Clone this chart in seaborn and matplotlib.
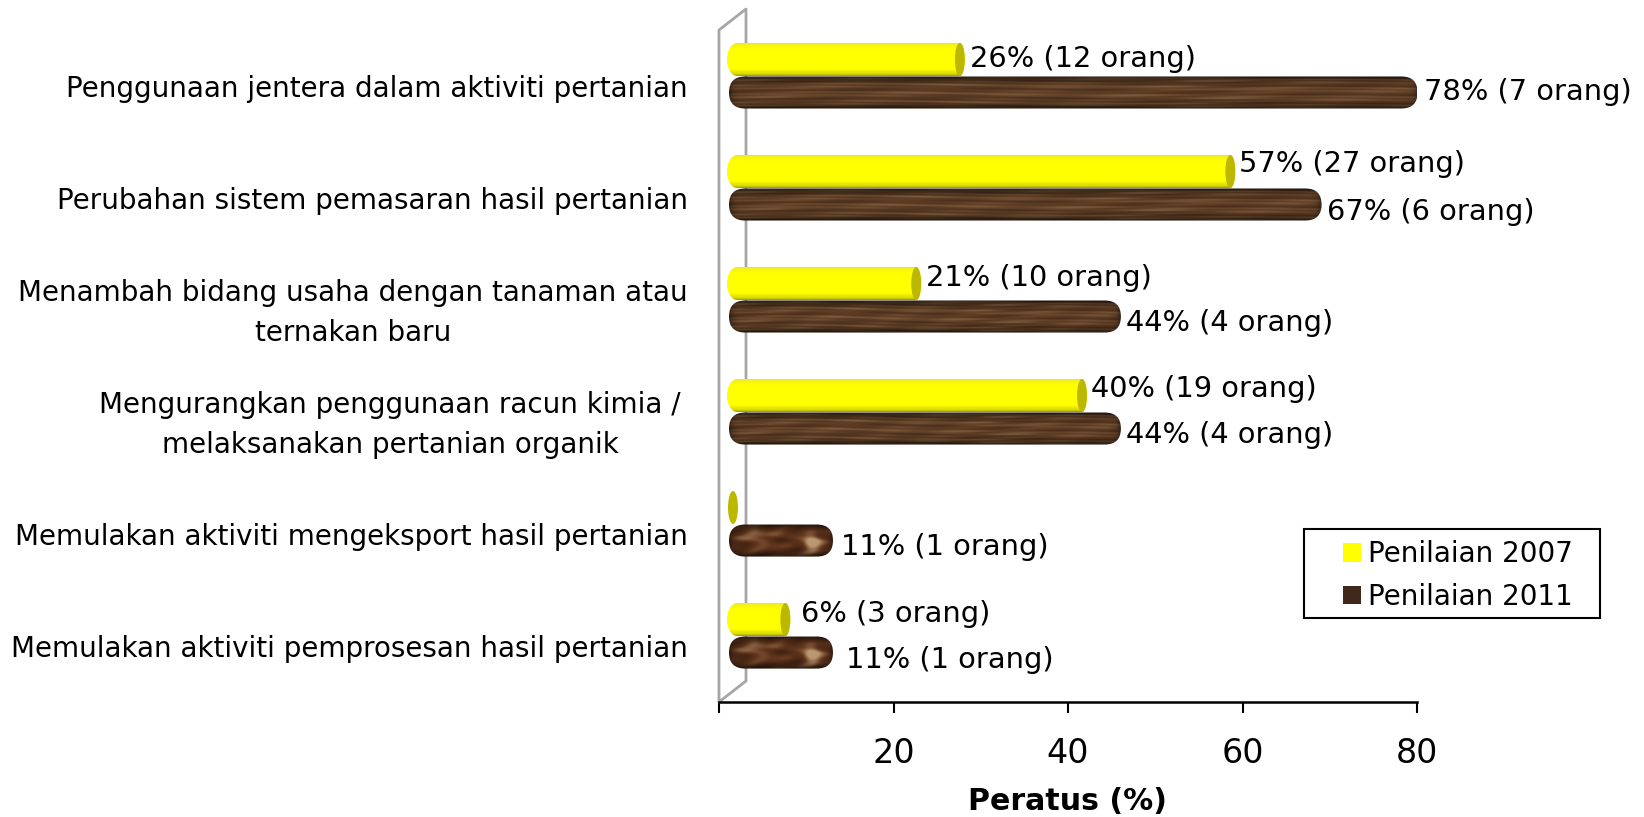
import numpy as np
import pandas as pd
import matplotlib
matplotlib.use('Agg')
import matplotlib.pyplot as plt
import matplotlib.patches as mpatches
from matplotlib.path import Path
from matplotlib.transforms import IdentityTransform
import seaborn as sns

# ── Data ─────────────────────────────────────────────────────
categories = [
    'Penggunaan jentera dalam aktiviti pertanian',
    'Perubahan sistem pemasaran hasil pertanian',
    'Menambah bidang usaha dengan tanaman atau\nternakan baru',
    'Mengurangkan penggunaan racun kimia /\nmelaksanakan pertanian organik',
    'Memulakan aktiviti mengeksport hasil pertanian',
    'Memulakan aktiviti pemprosesan hasil pertanian',
]
pct_2007 = [26, 57, 21, 40, 0, 6]
pct_2011 = [78, 67, 44, 44, 11, 11]
people_2007 = [12, 27, 10, 19, 0, 3]
people_2011 = [7, 6, 4, 4, 1, 1]
series_names = ['Penilaian 2007', 'Penilaian 2011']
x_ticks = [0, 20, 40, 60, 80]
x_tick_labels = ['', '20', '40', '60', '80']

# hand placed label nudges (px) : dx from bar end, dy from bar centre
nudge_2007 = [(5, 0), (4, -7), (5, -5), (4, -6), None, (11, -6)]
nudge_2011 = [(6, 0), (5, 7), (5, 6), (5, 6), (8, 6), (13, 7)]
label_shift = [0, 0, 0, 7, 0, 0]

W, H = 1644, 817
FONT = 'DejaVu Sans'
CAT_SIZE = 20
VALUE_SIZE = 20.8


# ── Helpers ──────────────────────────────────────────────────
def px(x, y):
    return (x, H - y)


def wood(w, h, short=False):
    """Brown wood-like texture as an RGB array, dark towards the edges."""
    u, v = np.meshgrid(np.linspace(0, 1, w), np.linspace(0, 1, h))
    if short:
        t = (0.30 * np.sin(u * 11 + 3 * np.sin(v * 7))
             + 0.22 * np.sin(u * 23 + v * 9 + 1.3)
             + 0.18 * np.sin(v * 17 + u * 5 + 0.4))
        t = 0.40 + 0.36 * t
        blob = (np.exp(-((u - 0.80) ** 2 / 0.006 + (v - 0.55) ** 2 / 0.08))
                + 0.5 * np.exp(-((u - 0.25) ** 2 / 0.012 + (v - 0.3) ** 2 / 0.05)))
        t = t + 0.8 * blob
        dark = np.array([0.20, 0.10, 0.05])
        mid = np.array([0.38, 0.21, 0.11])
        light = np.array([0.74, 0.60, 0.44])
    else:
        t = (0.30 * np.sin(v * 23 + 2 * np.sin(u * 5))
             + 0.25 * np.sin(v * 47 + 3 * np.sin(u * 9) + 1.3)
             + 0.18 * np.sin(v * 71 - u * 13 + 0.4)
             + 0.14 * np.sin(u * 37 + v * 9))
        t = 0.46 + 0.42 * t
        dark = np.array([0.23, 0.14, 0.08])
        mid = np.array([0.38, 0.25, 0.15])
        light = np.array([0.62, 0.49, 0.35])
    t = np.clip(t, 0, 1)[..., None]
    img = np.where(t < 0.5, dark + (mid - dark) * t * 2, mid + (light - mid) * (t - 0.5) * 2)
    # round look : darker along the top, bottom and both ends
    shade = 1 - 0.6 * np.abs(2 * v - 1) ** 3.5
    end_px = np.minimum(u, 1 - u) * w
    shade = shade * (1 - 0.45 * np.exp(-end_px / 3.5))
    return np.clip(img * shade[..., None], 0, 1)


def cylinder_shade(h):
    """Yellow body gradient, top to bottom."""
    v = np.linspace(0, 1, h)
    stops_v = [0, 0.06, 0.2, 0.8, 0.95, 1]
    r = np.interp(v, stops_v, [0.84, 0.95, 1, 1, 0.85, 0.65])
    g = np.interp(v, stops_v, [0.84, 0.95, 1, 1, 0.85, 0.65])
    b = np.interp(v, stops_v, [0.45, 0.10, 0, 0, 0, 0])
    return np.stack([r, g, b], axis=1)[:, None, :]


def capsule(ax, x0, x1, yc, h, zorder):
    # display coordinates
    w = x1 - x0
    clip = mpatches.FancyBboxPatch((x0, yc - h / 2), w, h,
                                   boxstyle=f'round,pad=0,rounding_size={h * 0.5}',
                                   transform=IdentityTransform())
    im = ax.imshow(wood(int(w), int(h), short=w < 150), extent=(x0, x1, yc - h / 2, yc + h / 2),
                   transform=IdentityTransform(), aspect='auto', origin='upper',
                   interpolation='bilinear', zorder=zorder)
    im.set_clip_path(clip)


def cylinder(ax, x0, x1, yc, h, zorder):
    # display coordinates, left end rounded, right end shows the cap
    rx_l, rx_r = 10, 5
    t_l = np.linspace(np.pi / 2, 3 * np.pi / 2, 30)
    t_r = np.linspace(-np.pi / 2, np.pi / 2, 30)
    left = np.c_[x0 + rx_l + rx_l * np.cos(t_l), yc + h / 2 * np.sin(t_l)]
    right = np.c_[x1 - rx_r + rx_r * np.cos(t_r), yc + h / 2 * np.sin(t_r)]
    if x1 - x0 > rx_l + 2 * rx_r:
        pts = np.vstack([left, right, left[:1]])
        clip = mpatches.PathPatch(Path(pts), transform=IdentityTransform())
        im = ax.imshow(cylinder_shade(int(h)), extent=(x0, x1, yc - h / 2, yc + h / 2),
                       transform=IdentityTransform(), aspect='auto', origin='upper',
                       interpolation='bilinear', zorder=zorder)
        im.set_clip_path(clip)
    ax.add_patch(mpatches.Ellipse((x1 - rx_r, yc), 2 * rx_r, h, facecolor='#bcb800',
                                  edgecolor='none', transform=IdentityTransform(),
                                  zorder=zorder + 0.1))


# ── Plot ─────────────────────────────────────────────────────
sns.set_theme(style='white')
plt.rcParams['font.family'] = [FONT]

df = pd.DataFrame({
    'kategori': categories * 2,
    'peratus': pct_2007 + pct_2011,
    'siri': [series_names[0]] * len(categories) + [series_names[1]] * len(categories),
})

fig = plt.figure(figsize=(W / 100, H / 100), dpi=100)
ax = fig.add_axes([719 / W, (H - 702) / H, 698 / W, 692 / H])

sns.barplot(data=df, y='kategori', x='peratus', hue='siri', hue_order=series_names,
            orient='h', width=0.59, ax=ax, legend=False, facecolor='none', edgecolor='none')
ax.set_xlim(0, 80)
ax.set_ylim(5.589, -0.589)
ax.autoscale(False)

ax.set_xticks(x_ticks)
ax.set_xticklabels(x_tick_labels, fontsize=24, color='black')
ax.tick_params(axis='x', direction='out', length=8, width=1.5, color='black', pad=17.5, bottom=True)
ax.set_yticks([])
ax.set_xlabel('')
ax.set_ylabel('')
sns.despine(ax=ax, left=True)
ax.spines['bottom'].set_color('black')
ax.spines['bottom'].set_linewidth(1.8)
ax.patch.set_alpha(0)

# 3D side wall
wall = [(719, 702), (719, 30), (746, 9), (746, 681), (719, 702)]
xs, ys = zip(*[px(*p) for p in wall])
ax.plot(xs, ys, color='#a6a6a6', lw=2, transform=IdentityTransform(), clip_on=False, zorder=1)

fig.canvas.draw()
to_px = ax.transData.transform

# bars come from seaborn's containers, only their look is replaced
for i, (rect7, rect11) in enumerate(zip(ax.containers[0], ax.containers[1])):
    (x7, y7a), (x7e, y7b) = to_px([(rect7.get_x(), rect7.get_y()),
                                   (rect7.get_x() + rect7.get_width(),
                                    rect7.get_y() + rect7.get_height())])
    (x11, y11a), (x11e, y11b) = to_px([(rect11.get_x(), rect11.get_y()),
                                       (rect11.get_x() + rect11.get_width(),
                                        rect11.get_y() + rect11.get_height())])
    yc7, yc11 = (y7a + y7b) / 2, (y11a + y11b) / 2
    h7, h11 = abs(y7a - y7b), abs(y11a - y11b)
    end7 = x7e + 19
    end11 = x11e + 18
    capsule(ax, x11 + 10, end11, yc11, h11 - 1, zorder=3)
    cylinder(ax, x7 + 8, end7, yc7, h7, zorder=4)

    if nudge_2007[i] is not None:
        dx, dy = nudge_2007[i]
        ax.text(end7 + dx, yc7 - dy, f'{pct_2007[i]}% ({people_2007[i]} orang)',
                transform=IdentityTransform(), fontsize=VALUE_SIZE, va='center', ha='left',
                color='black', zorder=6, clip_on=False)
    dx, dy = nudge_2011[i]
    ax.text(end11 + dx, yc11 - dy, f'{pct_2011[i]}% ({people_2011[i]} orang)',
            transform=IdentityTransform(), fontsize=VALUE_SIZE, va='center', ha='left',
            color='black', zorder=6, clip_on=False)

    # category label
    yc = (yc7 + yc11) / 2
    ax.text(688 - label_shift[i], yc - 13, categories[i], transform=IdentityTransform(),
            fontsize=CAT_SIZE, ha='right', va='center', multialignment='center',
            linespacing=1.55, color='black', clip_on=False)

fig.text(1067 / W, (H - 802) / H, 'Peratus (%)', fontsize=21.6, fontweight='bold',
         ha='center', va='center', color='black')

# legend, frame drawn apart so the inner margins can follow the reference
fig.add_artist(mpatches.Rectangle((1304 / W, (H - 618) / H), 296 / W, 89 / H,
                                  transform=fig.transFigure, facecolor='white',
                                  edgecolor='black', lw=1.5))
handles = [mpatches.Patch(facecolor='#ffff00', edgecolor='none', label=series_names[0]),
           mpatches.Patch(facecolor='#40291a', edgecolor='none', label=series_names[1])]
leg = fig.legend(handles=handles, loc='upper left', bbox_to_anchor=(1343 / W, (H - 540) / H),
                 fontsize=CAT_SIZE, frameon=False, handlelength=0.65, handleheight=0.65,
                 handletextpad=0.25, borderaxespad=0, borderpad=0, labelspacing=0.53,
                 labelcolor='black')

fig.savefig('out.png', dpi=100)
